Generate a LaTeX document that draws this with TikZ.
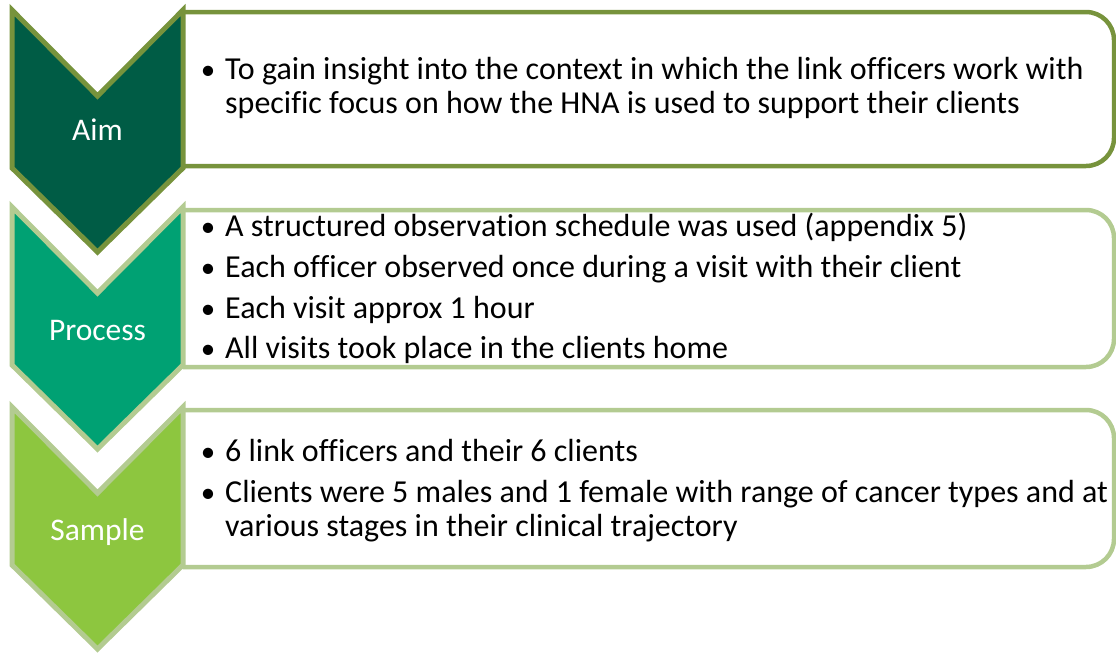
\documentclass[tikz,border=0pt]{standalone}
\usepackage{fontspec}
\setmainfont{Carlito}[Ligatures={NoCommon}]
\definecolor{olive}{HTML}{77933C}
\definecolor{darkg}{HTML}{005C45}
\definecolor{midg}{HTML}{00A173}
\definecolor{lightg}{HTML}{8DC63F}
\definecolor{paleb}{HTML}{B3CB91}
\tikzset{
  chev/.style={line width=5pt, line join=miter},
  boxline/.style={line width=4.5pt, rounded corners=28pt},
  lab/.style={text=white, font=\fontsize{31.5}{36}\selectfont, inner sep=0pt},
  txt/.style={anchor=base west, inner sep=0pt, font=\fontsize{32}{38}\selectfont},
  bul/.style={anchor=base, inner sep=0pt, font=\fontsize{29}{38}\selectfont},
}
\newcommand{\chevron}[3]{% top y, fill, border
  \filldraw[chev, fill=#2, draw=#3] (12,#1) -- (97.5,#1+86) -- (183,#1) -- (183,#1+158) -- (97.5,#1+242) -- (12,#1+158) -- cycle;
}
\begin{document}
\begin{tikzpicture}[x=1pt, y=-1pt]
\useasboundingbox (0,0) rectangle (1116,653);
% boxes
\draw[boxline, draw=olive] (183,12) -- (1114,12) -- (1114,166) -- (183,166);
\draw[boxline, draw=paleb] (183,210) -- (1114,210) -- (1114,367) -- (183,367);
\draw[boxline, draw=paleb] (183,410) -- (1114,410) -- (1114,567) -- (183,567);
% chevrons
\chevron{10}{darkg}{olive}
\chevron{207}{midg}{paleb}
\chevron{407}{lightg}{paleb}
\node[lab] (aim) at (97.5,130) {Aim};
\node[lab] (process) at (97.5,331) {Process};
\node[lab] (sample) at (97.5,532) {Sample};
% box 1
\node[bul] (b11) at (208,79) {•};
\node[txt] (t11) at (225,79) {To gain insight into the context in which the link officers work with};
\node[txt] (t12) at (225,113) {specific focus on how the HNA is used to support their clients};
% box 2
\node[bul] (b21) at (208,236) {•};
\node[txt] (t21) at (225,236) {A structured observation schedule was used (appendix 5)};
\node[bul] (b22) at (208,277) {•};
\node[txt] (t22) at (225,277) {Each officer observed once during a visit with their client};
\node[bul] (b23) at (208,318) {•};
\node[txt] (t23) at (225,318) {Each visit approx 1 hour};
\node[bul] (b24) at (208,358) {•};
\node[txt] (t24) at (225,358) {All visits took place in the clients home};
% box 3
\node[bul] (b31) at (208,461) {•};
\node[txt] (t31) at (225,461) {6 link officers and their 6 clients};
\node[bul] (b32) at (208,502) {•};
\node[txt] (t32) at (225,502) {Clients were 5 males and 1 female with range of cancer types and at};
\node[txt] (t33) at (225,536) {various stages in their clinical trajectory};
\end{tikzpicture}
\end{document}
